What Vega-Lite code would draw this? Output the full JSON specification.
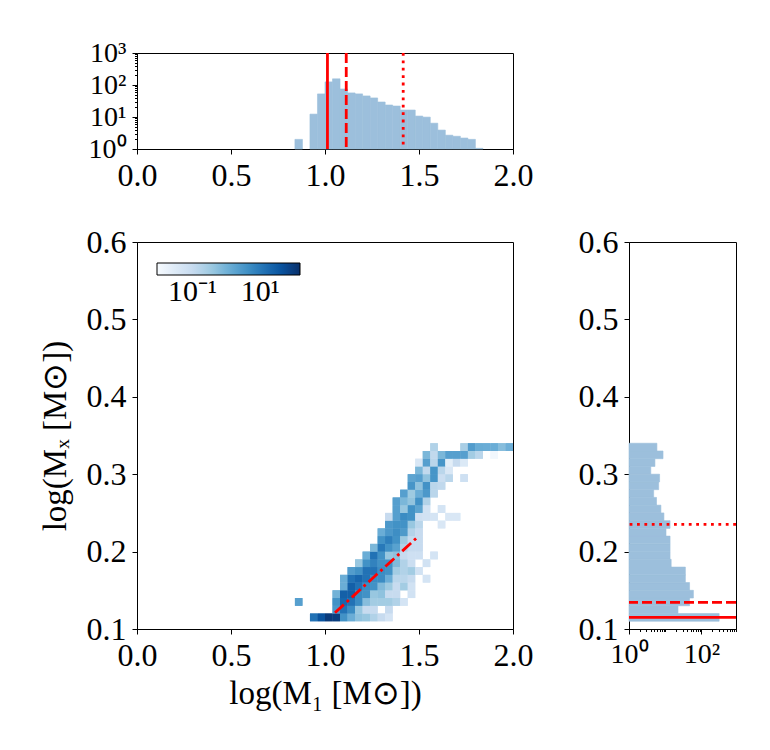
{
  "$schema": "https://vega.github.io/schema/vega-lite/v6.json",
  "padding": {"left": 38, "top": 38, "right": 0, "bottom": 0},
  "config": {
    "font": "Liberation Serif",
    "view": {"stroke": "black", "strokeWidth": 1},
    "axis": {
      "labelFont": "Liberation Serif", "labelFontSize": 32, "labelColor": "black",
      "titleFont": "Liberation Serif", "titleFontSize": 33, "titleFontWeight": "normal", "titleColor": "black",
      "tickColor": "black", "domainColor": "black", "tickSize": 5, "grid": false,
      "labelPadding": 6, "titlePadding": 6, "labelFlush": false, "labelOverlap": false
    }
  },
  "datasets": {
    "heat": [
      {"x": 0.92, "x2": 0.96, "y": 0.11, "y2": 0.12, "v": 13},
      {"x": 0.96, "x2": 1.00, "y": 0.11, "y2": 0.12, "v": 40},
      {"x": 1.00, "x2": 1.04, "y": 0.11, "y2": 0.12, "v": 100},
      {"x": 1.04, "x2": 1.08, "y": 0.11, "y2": 0.12, "v": 90},
      {"x": 1.08, "x2": 1.12, "y": 0.11, "y2": 0.12, "v": 4},
      {"x": 1.12, "x2": 1.16, "y": 0.11, "y2": 0.12, "v": 1.2},
      {"x": 1.16, "x2": 1.20, "y": 0.11, "y2": 0.12, "v": 0.5},
      {"x": 1.20, "x2": 1.24, "y": 0.11, "y2": 0.12, "v": 0.4},
      {"x": 1.24, "x2": 1.28, "y": 0.11, "y2": 0.12, "v": 0.2},
      {"x": 1.28, "x2": 1.32, "y": 0.11, "y2": 0.12, "v": 0.1},
      {"x": 1.32, "x2": 1.36, "y": 0.11, "y2": 0.12, "v": 0.05},

      {"x": 1.04, "x2": 1.08, "y": 0.12, "y2": 0.13, "v": 3},
      {"x": 1.08, "x2": 1.12, "y": 0.12, "y2": 0.13, "v": 13},
      {"x": 1.12, "x2": 1.16, "y": 0.12, "y2": 0.13, "v": 5},
      {"x": 1.16, "x2": 1.20, "y": 0.12, "y2": 0.13, "v": 0.4},
      {"x": 1.20, "x2": 1.24, "y": 0.12, "y2": 0.13, "v": 0.1},
      {"x": 1.24, "x2": 1.28, "y": 0.12, "y2": 0.13, "v": 0.1},
      {"x": 1.32, "x2": 1.36, "y": 0.12, "y2": 0.13, "v": 0.1},

      {"x": 0.84, "x2": 0.88, "y": 0.13, "y2": 0.14, "v": 2.2},
      {"x": 1.04, "x2": 1.08, "y": 0.13, "y2": 0.14, "v": 4},
      {"x": 1.08, "x2": 1.12, "y": 0.13, "y2": 0.14, "v": 20},
      {"x": 1.12, "x2": 1.16, "y": 0.13, "y2": 0.14, "v": 13},
      {"x": 1.16, "x2": 1.20, "y": 0.13, "y2": 0.14, "v": 5},
      {"x": 1.20, "x2": 1.24, "y": 0.13, "y2": 0.14, "v": 0.6},
      {"x": 1.24, "x2": 1.28, "y": 0.13, "y2": 0.14, "v": 0.3},
      {"x": 1.28, "x2": 1.32, "y": 0.13, "y2": 0.14, "v": 0.3},
      {"x": 1.32, "x2": 1.36, "y": 0.13, "y2": 0.14, "v": 0.3},
      {"x": 1.36, "x2": 1.40, "y": 0.13, "y2": 0.14, "v": 0.2},
      {"x": 1.40, "x2": 1.44, "y": 0.13, "y2": 0.14, "v": 0.05},

      {"x": 1.04, "x2": 1.08, "y": 0.14, "y2": 0.15, "v": 1.0},
      {"x": 1.08, "x2": 1.12, "y": 0.14, "y2": 0.15, "v": 25},
      {"x": 1.12, "x2": 1.16, "y": 0.14, "y2": 0.15, "v": 25},
      {"x": 1.16, "x2": 1.20, "y": 0.14, "y2": 0.15, "v": 5},
      {"x": 1.20, "x2": 1.24, "y": 0.14, "y2": 0.15, "v": 4},
      {"x": 1.24, "x2": 1.28, "y": 0.14, "y2": 0.15, "v": 0.4},
      {"x": 1.28, "x2": 1.32, "y": 0.14, "y2": 0.15, "v": 0.5},
      {"x": 1.32, "x2": 1.36, "y": 0.14, "y2": 0.15, "v": 0.1},
      {"x": 1.36, "x2": 1.40, "y": 0.14, "y2": 0.15, "v": 0.1},
      {"x": 1.44, "x2": 1.48, "y": 0.14, "y2": 0.15, "v": 0.06},

      {"x": 1.08, "x2": 1.12, "y": 0.15, "y2": 0.16, "v": 1.2},
      {"x": 1.12, "x2": 1.16, "y": 0.15, "y2": 0.16, "v": 25},
      {"x": 1.16, "x2": 1.20, "y": 0.15, "y2": 0.16, "v": 13},
      {"x": 1.20, "x2": 1.24, "y": 0.15, "y2": 0.16, "v": 5},
      {"x": 1.24, "x2": 1.28, "y": 0.15, "y2": 0.16, "v": 4},
      {"x": 1.28, "x2": 1.32, "y": 0.15, "y2": 0.16, "v": 0.7},
      {"x": 1.32, "x2": 1.36, "y": 0.15, "y2": 0.16, "v": 0.35},
      {"x": 1.36, "x2": 1.40, "y": 0.15, "y2": 0.16, "v": 0.1},
      {"x": 1.40, "x2": 1.44, "y": 0.15, "y2": 0.16, "v": 0.3},
      {"x": 1.44, "x2": 1.48, "y": 0.15, "y2": 0.16, "v": 0.06},

      {"x": 1.08, "x2": 1.12, "y": 0.16, "y2": 0.17, "v": 1.2},
      {"x": 1.12, "x2": 1.16, "y": 0.16, "y2": 0.17, "v": 13},
      {"x": 1.16, "x2": 1.20, "y": 0.16, "y2": 0.17, "v": 20},
      {"x": 1.20, "x2": 1.24, "y": 0.16, "y2": 0.17, "v": 13},
      {"x": 1.24, "x2": 1.28, "y": 0.16, "y2": 0.17, "v": 5},
      {"x": 1.28, "x2": 1.32, "y": 0.16, "y2": 0.17, "v": 5},
      {"x": 1.32, "x2": 1.36, "y": 0.16, "y2": 0.17, "v": 1.2},
      {"x": 1.36, "x2": 1.40, "y": 0.16, "y2": 0.17, "v": 0.15},
      {"x": 1.40, "x2": 1.44, "y": 0.16, "y2": 0.17, "v": 0.15},
      {"x": 1.44, "x2": 1.48, "y": 0.16, "y2": 0.17, "v": 0.1},
      {"x": 1.52, "x2": 1.56, "y": 0.16, "y2": 0.17, "v": 0.05},

      {"x": 1.12, "x2": 1.16, "y": 0.17, "y2": 0.18, "v": 2.5},
      {"x": 1.16, "x2": 1.20, "y": 0.17, "y2": 0.18, "v": 4},
      {"x": 1.20, "x2": 1.24, "y": 0.17, "y2": 0.18, "v": 13},
      {"x": 1.24, "x2": 1.28, "y": 0.17, "y2": 0.18, "v": 13},
      {"x": 1.28, "x2": 1.32, "y": 0.17, "y2": 0.18, "v": 5},
      {"x": 1.32, "x2": 1.36, "y": 0.17, "y2": 0.18, "v": 4},
      {"x": 1.36, "x2": 1.40, "y": 0.17, "y2": 0.18, "v": 0.3},
      {"x": 1.40, "x2": 1.44, "y": 0.17, "y2": 0.18, "v": 0.2},
      {"x": 1.44, "x2": 1.48, "y": 0.17, "y2": 0.18, "v": 0.3},
      {"x": 1.48, "x2": 1.52, "y": 0.17, "y2": 0.18, "v": 0.06},

      {"x": 1.16, "x2": 1.20, "y": 0.18, "y2": 0.19, "v": 0.4},
      {"x": 1.20, "x2": 1.24, "y": 0.18, "y2": 0.19, "v": 4},
      {"x": 1.24, "x2": 1.28, "y": 0.18, "y2": 0.19, "v": 7},
      {"x": 1.28, "x2": 1.32, "y": 0.18, "y2": 0.19, "v": 4},
      {"x": 1.32, "x2": 1.36, "y": 0.18, "y2": 0.19, "v": 4},
      {"x": 1.36, "x2": 1.40, "y": 0.18, "y2": 0.19, "v": 0.7},
      {"x": 1.40, "x2": 1.44, "y": 0.18, "y2": 0.19, "v": 0.2},
      {"x": 1.44, "x2": 1.48, "y": 0.18, "y2": 0.19, "v": 0.08},
      {"x": 1.52, "x2": 1.56, "y": 0.18, "y2": 0.19, "v": 0.06},

      {"x": 1.20, "x2": 1.24, "y": 0.19, "y2": 0.20, "v": 1.2},
      {"x": 1.24, "x2": 1.28, "y": 0.19, "y2": 0.20, "v": 13},
      {"x": 1.28, "x2": 1.32, "y": 0.19, "y2": 0.20, "v": 4},
      {"x": 1.32, "x2": 1.36, "y": 0.19, "y2": 0.20, "v": 0.4},
      {"x": 1.36, "x2": 1.40, "y": 0.19, "y2": 0.20, "v": 0.5},
      {"x": 1.40, "x2": 1.44, "y": 0.19, "y2": 0.20, "v": 0.1},
      {"x": 1.44, "x2": 1.48, "y": 0.19, "y2": 0.20, "v": 0.07},
      {"x": 1.48, "x2": 1.52, "y": 0.19, "y2": 0.20, "v": 0.07},
      {"x": 1.56, "x2": 1.60, "y": 0.19, "y2": 0.20, "v": 0.05},

      {"x": 1.24, "x2": 1.28, "y": 0.20, "y2": 0.21, "v": 0.8},
      {"x": 1.28, "x2": 1.32, "y": 0.20, "y2": 0.21, "v": 10},
      {"x": 1.32, "x2": 1.36, "y": 0.20, "y2": 0.21, "v": 4},
      {"x": 1.36, "x2": 1.40, "y": 0.20, "y2": 0.21, "v": 2},
      {"x": 1.40, "x2": 1.44, "y": 0.20, "y2": 0.21, "v": 0.2},
      {"x": 1.44, "x2": 1.48, "y": 0.20, "y2": 0.21, "v": 0.1},
      {"x": 1.48, "x2": 1.52, "y": 0.20, "y2": 0.21, "v": 0.1},

      {"x": 1.28, "x2": 1.32, "y": 0.21, "y2": 0.22, "v": 4},
      {"x": 1.32, "x2": 1.36, "y": 0.21, "y2": 0.22, "v": 8},
      {"x": 1.36, "x2": 1.40, "y": 0.21, "y2": 0.22, "v": 4},
      {"x": 1.40, "x2": 1.44, "y": 0.21, "y2": 0.22, "v": 0.35},
      {"x": 1.44, "x2": 1.48, "y": 0.21, "y2": 0.22, "v": 0.1},
      {"x": 1.48, "x2": 1.52, "y": 0.21, "y2": 0.22, "v": 0.1},

      {"x": 1.28, "x2": 1.32, "y": 0.22, "y2": 0.23, "v": 1.2},
      {"x": 1.32, "x2": 1.36, "y": 0.22, "y2": 0.23, "v": 3},
      {"x": 1.36, "x2": 1.40, "y": 0.22, "y2": 0.23, "v": 4.5},
      {"x": 1.40, "x2": 1.44, "y": 0.22, "y2": 0.23, "v": 2.8},
      {"x": 1.44, "x2": 1.48, "y": 0.22, "y2": 0.23, "v": 0.18},
      {"x": 1.48, "x2": 1.52, "y": 0.22, "y2": 0.23, "v": 0.1},

      {"x": 1.32, "x2": 1.36, "y": 0.23, "y2": 0.24, "v": 3},
      {"x": 1.36, "x2": 1.40, "y": 0.23, "y2": 0.24, "v": 4},
      {"x": 1.40, "x2": 1.44, "y": 0.23, "y2": 0.24, "v": 4},
      {"x": 1.44, "x2": 1.48, "y": 0.23, "y2": 0.24, "v": 0.4},
      {"x": 1.48, "x2": 1.52, "y": 0.23, "y2": 0.24, "v": 0.15},
      {"x": 1.60, "x2": 1.64, "y": 0.23, "y2": 0.24, "v": 0.04},

      {"x": 1.32, "x2": 1.36, "y": 0.24, "y2": 0.25, "v": 0.1},
      {"x": 1.36, "x2": 1.40, "y": 0.24, "y2": 0.25, "v": 2.2},
      {"x": 1.40, "x2": 1.44, "y": 0.24, "y2": 0.25, "v": 5},
      {"x": 1.44, "x2": 1.48, "y": 0.24, "y2": 0.25, "v": 4},
      {"x": 1.48, "x2": 1.52, "y": 0.24, "y2": 0.25, "v": 0.07},
      {"x": 1.52, "x2": 1.56, "y": 0.24, "y2": 0.25, "v": 0.06},
      {"x": 1.56, "x2": 1.60, "y": 0.24, "y2": 0.25, "v": 0.05},
      {"x": 1.64, "x2": 1.68, "y": 0.24, "y2": 0.25, "v": 0.04},
      {"x": 1.68, "x2": 1.72, "y": 0.24, "y2": 0.25, "v": 0.04},

      {"x": 1.36, "x2": 1.40, "y": 0.25, "y2": 0.26, "v": 2.2},
      {"x": 1.40, "x2": 1.44, "y": 0.25, "y2": 0.26, "v": 0.4},
      {"x": 1.44, "x2": 1.48, "y": 0.25, "y2": 0.26, "v": 4},
      {"x": 1.48, "x2": 1.52, "y": 0.25, "y2": 0.26, "v": 1.8},
      {"x": 1.52, "x2": 1.56, "y": 0.25, "y2": 0.26, "v": 0.06},
      {"x": 1.60, "x2": 1.64, "y": 0.25, "y2": 0.26, "v": 0.05},

      {"x": 1.36, "x2": 1.40, "y": 0.26, "y2": 0.27, "v": 2.2},
      {"x": 1.40, "x2": 1.44, "y": 0.26, "y2": 0.27, "v": 0.8},
      {"x": 1.44, "x2": 1.48, "y": 0.26, "y2": 0.27, "v": 0.45},
      {"x": 1.48, "x2": 1.52, "y": 0.26, "y2": 0.27, "v": 4},
      {"x": 1.52, "x2": 1.56, "y": 0.26, "y2": 0.27, "v": 0.2},

      {"x": 1.40, "x2": 1.44, "y": 0.27, "y2": 0.28, "v": 2.2},
      {"x": 1.44, "x2": 1.48, "y": 0.27, "y2": 0.28, "v": 0.35},
      {"x": 1.48, "x2": 1.52, "y": 0.27, "y2": 0.28, "v": 1.2},
      {"x": 1.52, "x2": 1.56, "y": 0.27, "y2": 0.28, "v": 3},
      {"x": 1.56, "x2": 1.60, "y": 0.27, "y2": 0.28, "v": 0.15},

      {"x": 1.44, "x2": 1.48, "y": 0.28, "y2": 0.29, "v": 3.5},
      {"x": 1.48, "x2": 1.52, "y": 0.28, "y2": 0.29, "v": 0.5},
      {"x": 1.52, "x2": 1.56, "y": 0.28, "y2": 0.29, "v": 4},
      {"x": 1.56, "x2": 1.60, "y": 0.28, "y2": 0.29, "v": 0.15},
      {"x": 1.60, "x2": 1.64, "y": 0.28, "y2": 0.29, "v": 0.12},

      {"x": 1.44, "x2": 1.48, "y": 0.29, "y2": 0.30, "v": 1.8},
      {"x": 1.48, "x2": 1.52, "y": 0.29, "y2": 0.30, "v": 2.2},
      {"x": 1.52, "x2": 1.56, "y": 0.29, "y2": 0.30, "v": 0.5},
      {"x": 1.56, "x2": 1.60, "y": 0.29, "y2": 0.30, "v": 3.5},
      {"x": 1.60, "x2": 1.64, "y": 0.29, "y2": 0.30, "v": 0.08},
      {"x": 1.64, "x2": 1.68, "y": 0.29, "y2": 0.30, "v": 0.15},
      {"x": 1.72, "x2": 1.76, "y": 0.29, "y2": 0.30, "v": 0.07},

      {"x": 1.48, "x2": 1.52, "y": 0.30, "y2": 0.31, "v": 0.8},
      {"x": 1.52, "x2": 1.56, "y": 0.30, "y2": 0.31, "v": 0.12},
      {"x": 1.56, "x2": 1.60, "y": 0.30, "y2": 0.31, "v": 3.5},
      {"x": 1.60, "x2": 1.64, "y": 0.30, "y2": 0.31, "v": 0.15},
      {"x": 1.64, "x2": 1.68, "y": 0.30, "y2": 0.31, "v": 0.04},

      {"x": 1.48, "x2": 1.52, "y": 0.31, "y2": 0.32, "v": 0.04},
      {"x": 1.52, "x2": 1.56, "y": 0.31, "y2": 0.32, "v": 2.2},
      {"x": 1.56, "x2": 1.60, "y": 0.31, "y2": 0.32, "v": 0.15},
      {"x": 1.60, "x2": 1.64, "y": 0.31, "y2": 0.32, "v": 3.5},
      {"x": 1.64, "x2": 1.68, "y": 0.31, "y2": 0.32, "v": 0.025},
      {"x": 1.68, "x2": 1.72, "y": 0.31, "y2": 0.32, "v": 0.1},
      {"x": 1.72, "x2": 1.76, "y": 0.31, "y2": 0.32, "v": 0.035},

      {"x": 1.52, "x2": 1.56, "y": 0.32, "y2": 0.33, "v": 0.8},
      {"x": 1.56, "x2": 1.60, "y": 0.32, "y2": 0.33, "v": 0.12},
      {"x": 1.60, "x2": 1.64, "y": 0.32, "y2": 0.33, "v": 0.8},
      {"x": 1.64, "x2": 1.68, "y": 0.32, "y2": 0.33, "v": 2.2},
      {"x": 1.68, "x2": 1.72, "y": 0.32, "y2": 0.33, "v": 2.2},
      {"x": 1.72, "x2": 1.76, "y": 0.32, "y2": 0.33, "v": 2.2},
      {"x": 1.76, "x2": 1.80, "y": 0.32, "y2": 0.33, "v": 0.3},
      {"x": 1.80, "x2": 1.84, "y": 0.32, "y2": 0.33, "v": 0.15},
      {"x": 1.88, "x2": 1.92, "y": 0.32, "y2": 0.33, "v": 0.012},

      {"x": 1.56, "x2": 1.60, "y": 0.33, "y2": 0.34, "v": 0.2},
      {"x": 1.72, "x2": 1.76, "y": 0.33, "y2": 0.34, "v": 0.25},
      {"x": 1.76, "x2": 1.80, "y": 0.33, "y2": 0.34, "v": 2.5},
      {"x": 1.80, "x2": 1.84, "y": 0.33, "y2": 0.34, "v": 1.3},
      {"x": 1.84, "x2": 1.88, "y": 0.33, "y2": 0.34, "v": 1.2},
      {"x": 1.88, "x2": 1.92, "y": 0.33, "y2": 0.34, "v": 1.2},
      {"x": 1.92, "x2": 1.96, "y": 0.33, "y2": 0.34, "v": 0.6},
      {"x": 1.96, "x2": 2.00, "y": 0.33, "y2": 0.34, "v": 1.1}
    ]
  },
  "spacing": 93,
  "bounds": "flush",
  "resolve": {"scale": {"color": "independent", "strokeDash": "independent"}},
  "vconcat": [
    {
      "width": 376,
      "height": 96,
      "layer": [
        {
          "data": {"values": [
            {"x": 0.84, "x2": 0.88, "n": 2.0},
            {"x": 0.92, "x2": 0.96, "n": 12.3},
            {"x": 0.96, "x2": 1.00, "n": 52.6},
            {"x": 1.00, "x2": 1.04, "n": 125},
            {"x": 1.04, "x2": 1.08, "n": 156},
            {"x": 1.08, "x2": 1.12, "n": 75},
            {"x": 1.12, "x2": 1.16, "n": 56.5},
            {"x": 1.16, "x2": 1.20, "n": 52.7},
            {"x": 1.20, "x2": 1.24, "n": 45.5},
            {"x": 1.24, "x2": 1.28, "n": 39.4},
            {"x": 1.28, "x2": 1.32, "n": 29.4},
            {"x": 1.32, "x2": 1.36, "n": 23.7},
            {"x": 1.36, "x2": 1.40, "n": 22},
            {"x": 1.40, "x2": 1.44, "n": 16.5},
            {"x": 1.44, "x2": 1.48, "n": 16.5},
            {"x": 1.48, "x2": 1.52, "n": 10.7},
            {"x": 1.52, "x2": 1.56, "n": 9.9},
            {"x": 1.56, "x2": 1.60, "n": 6.4},
            {"x": 1.60, "x2": 1.64, "n": 3.9},
            {"x": 1.64, "x2": 1.68, "n": 2.7},
            {"x": 1.68, "x2": 1.72, "n": 2.5},
            {"x": 1.72, "x2": 1.76, "n": 2.2},
            {"x": 1.76, "x2": 1.80, "n": 2.0},
            {"x": 1.80, "x2": 1.84, "n": 1.05}
          ]},
          "mark": {"type": "rect", "color": "#9cbfdc", "stroke": "#9cbfdc", "strokeWidth": 0.6},
          "encoding": {
            "x": {"field": "x", "type": "quantitative", "scale": {"domain": [0, 2], "nice": false},
                  "axis": {"values": [0, 0.5, 1, 1.5, 2], "format": ".1f", "title": null}},
            "x2": {"field": "x2"},
            "y": {"field": "n", "type": "quantitative", "scale": {"type": "log", "domain": [1, 1000], "nice": false},
                  "axis": {"values": [1, 2, 3, 4, 5, 6, 7, 8, 9, 10, 20, 30, 40, 50, 60, 70, 80, 90, 100, 200, 300, 400, 500, 600, 700, 800, 900, 1000],
                           "title": null, "labelFontSize": 28,
                           "tickSize": {"condition": {"test": "datum.value == 1 || datum.value == 10 || datum.value == 100 || datum.value == 1000", "value": 5}, "value": 2.5},
                           "labelExpr": "datum.value == 1 ? '10⁰' : datum.value == 10 ? '10¹' : datum.value == 100 ? '10²' : datum.value == 1000 ? '10³' : ''"}},
            "y2": {"datum": 1}
          }
        },
        {
          "data": {"values": [
            {"x": 1.013, "kind": "solid"},
            {"x": 1.113, "kind": "dashed"},
            {"x": 1.416, "kind": "dotted"}
          ]},
          "mark": {"type": "rule", "color": "#ff0000", "strokeWidth": 2.8},
          "encoding": {
            "x": {"field": "x", "type": "quantitative"},
            "strokeDash": {"field": "kind", "type": "nominal", "legend": null,
                           "scale": {"domain": ["solid", "dashed", "dotted"], "range": [[1, 0], [10, 4], [2.8, 4.6]]}}
          }
        }
      ]
    },
    {
      "spacing": 116,
      "bounds": "flush",
      "resolve": {"scale": {"color": "independent", "strokeDash": "independent"}},
      "hconcat": [
        {
          "width": 376,
          "height": 387,
          "layer": [
            {
              "data": {"name": "heat"},
              "mark": {"type": "rect"},
              "encoding": {
                "x": {"field": "x", "type": "quantitative", "scale": {"domain": [0, 2], "nice": false},
                      "axis": {"values": [0, 0.5, 1, 1.5, 2], "format": ".1f", "title": "log(M₁ [M⊙])"}},
                "x2": {"field": "x2"},
                "y": {"field": "y", "type": "quantitative", "scale": {"domain": [0.1, 0.6], "nice": false},
                      "axis": {"values": [0.1, 0.2, 0.3, 0.4, 0.5, 0.6], "format": ".1f", "title": "log(Mₓ [M⊙])", "titlePadding": 14}},
                "y2": {"field": "y2"},
                "color": {
                  "field": "v", "type": "quantitative",
                  "scale": {"type": "log",
                            "domain": [0.009, 0.0305, 0.1028, 0.347, 1.17, 3.95, 13.3, 45, 150],
                            "range": ["#f7fbff", "#deebf7", "#c6dbef", "#9ecae1", "#6baed6", "#4292c6", "#2171b5", "#08519c", "#08306b"]},
                  "legend": {
                    "orient": "none", "legendX": 20, "legendY": 21, "direction": "horizontal",
                    "gradientLength": 143, "gradientThickness": 12, "title": null,
                    "gradientStrokeColor": "black", "gradientStrokeWidth": 1,
                    "values": [0.1, 10], "labelExpr": "datum.value < 1 ? '10⁻¹' : '10¹'",
                    "labelFont": "Liberation Serif", "labelFontSize": 30, "labelColor": "black", "labelOffset": 2
                  }
                }
              }
            },
            {
              "data": {"name": "heat"},
              "mark": {"type": "rect"},
              "encoding": {
                "x": {"field": "x", "type": "quantitative"},
                "x2": {"field": "x2"},
                "y": {"field": "y", "type": "quantitative"},
                "y2": {"field": "y2"},
                "color": {"field": "v", "type": "quantitative"}
              }
            },
            {
              "data": {"values": [
                {"x": 1.053, "y": 0.121},
                {"x": 1.489, "y": 0.218}
              ]},
              "mark": {"type": "line", "color": "#ff0000", "strokeWidth": 2.8, "strokeDash": [12, 4, 2.8, 4]},
              "encoding": {
                "x": {"field": "x", "type": "quantitative"},
                "y": {"field": "y", "type": "quantitative"}
              }
            }
          ]
        },
        {
          "width": 107,
          "height": 387,
          "layer": [
            {
              "data": {"values": [
                {"y": 0.11, "y2": 0.12, "n": 308},
                {"y": 0.12, "y2": 0.13, "n": 22.5},
                {"y": 0.13, "y2": 0.14, "n": 47},
                {"y": 0.14, "y2": 0.15, "n": 60},
                {"y": 0.15, "y2": 0.16, "n": 47},
                {"y": 0.16, "y2": 0.17, "n": 36},
                {"y": 0.17, "y2": 0.18, "n": 36},
                {"y": 0.18, "y2": 0.19, "n": 14.6},
                {"y": 0.19, "y2": 0.20, "n": 13.6},
                {"y": 0.20, "y2": 0.21, "n": 13.6},
                {"y": 0.21, "y2": 0.22, "n": 13.6},
                {"y": 0.22, "y2": 0.23, "n": 10.5},
                {"y": 0.23, "y2": 0.24, "n": 13.6},
                {"y": 0.24, "y2": 0.25, "n": 9.2},
                {"y": 0.25, "y2": 0.26, "n": 7.6},
                {"y": 0.26, "y2": 0.27, "n": 5.75},
                {"y": 0.27, "y2": 0.28, "n": 4.8},
                {"y": 0.28, "y2": 0.29, "n": 6.6},
                {"y": 0.29, "y2": 0.30, "n": 7.0},
                {"y": 0.30, "y2": 0.31, "n": 4.0},
                {"y": 0.31, "y2": 0.32, "n": 5.2},
                {"y": 0.32, "y2": 0.33, "n": 8.7},
                {"y": 0.33, "y2": 0.34, "n": 5.9}
              ]},
              "mark": {"type": "rect", "color": "#9cbfdc", "stroke": "#9cbfdc", "strokeWidth": 0.6},
              "encoding": {
                "y": {"field": "y", "type": "quantitative", "scale": {"domain": [0.1, 0.6], "nice": false},
                      "axis": {"values": [0.1, 0.2, 0.3, 0.4, 0.5, 0.6], "format": ".1f", "title": null}},
                "y2": {"field": "y2"},
                "x": {"field": "n", "type": "quantitative", "scale": {"type": "log", "domain": [1, 900], "nice": false},
                      "axis": {"values": [1, 2, 3, 4, 5, 6, 7, 8, 9, 10, 20, 30, 40, 50, 60, 70, 80, 90, 100, 200, 300, 400, 500, 600, 700, 800, 900],
                               "title": null, "labelFontSize": 28,
                               "tickSize": {"condition": {"test": "datum.value == 1 || datum.value == 100", "value": 5}, "value": 2.5},
                               "labelExpr": "datum.value == 1 ? '10⁰' : datum.value == 100 ? '10²' : ''"}},
                "x2": {"datum": 1}
              }
            },
            {
              "data": {"values": [
                {"y": 0.115, "kind": "solid"},
                {"y": 0.1345, "kind": "dashed"},
                {"y": 0.2353, "kind": "dotted"}
              ]},
              "mark": {"type": "rule", "color": "#ff0000", "strokeWidth": 2.8},
              "encoding": {
                "y": {"field": "y", "type": "quantitative"},
                "strokeDash": {"field": "kind", "type": "nominal", "legend": null,
                               "scale": {"domain": ["solid", "dashed", "dotted"], "range": [[1, 0], [10, 4], [2.8, 4.6]]}}
              }
            }
          ]
        }
      ]
    }
  ]
}
